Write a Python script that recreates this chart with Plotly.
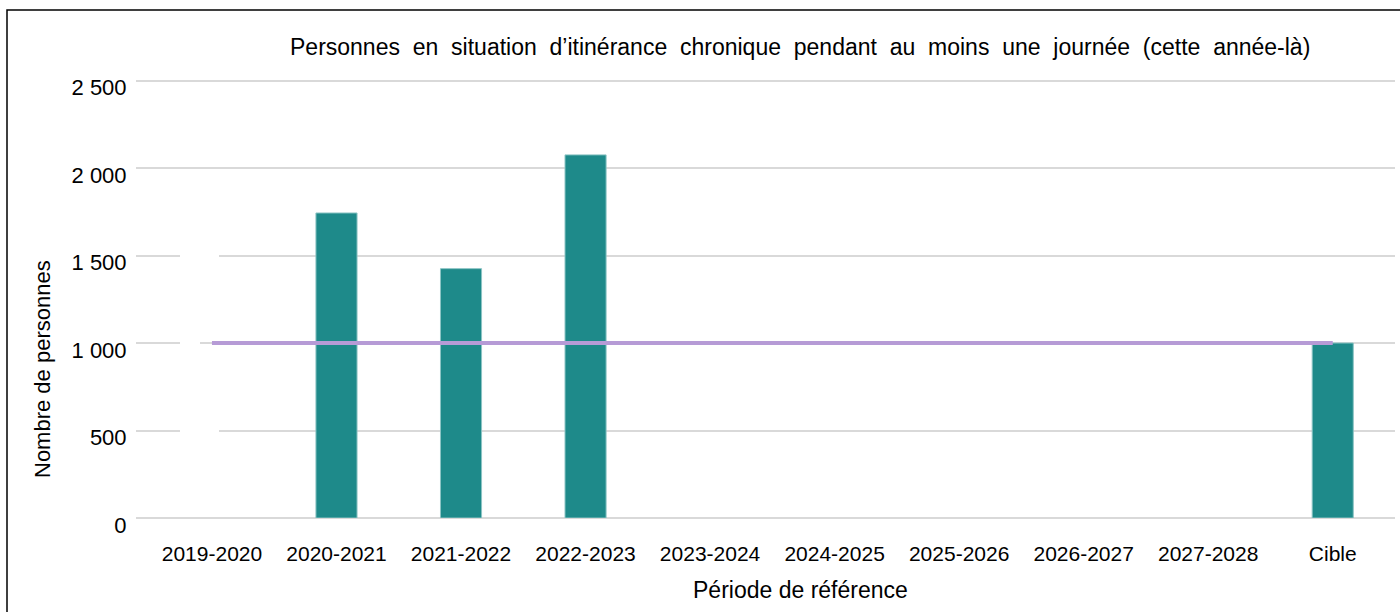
import plotly.graph_objects as go

# --------------------------------------------
# Data
# --------------------------------------------

periodes = ["2019-2020", "2020-2021", "2021-2022", "2022-2023", "2023-2024",
            "2024-2025", "2025-2026", "2026-2027", "2027-2028", "Cible"]
personnes = [None, 1743, 1425, 2075, None, None, None, None, None, 1000]
cible = [1000] * len(periodes)

y_ticks = [0, 500, 1000, 1500, 2000, 2500]
y_ticktext = ["0", "500", "1 000", "1 500", "2 000", "2 500"]

TITRE_MOTS = ["Personnes", "en", "situation", "d\u2019itinérance", "chronique",
              "pendant", "au", "moins", "une", "journée", "(cette", "année-là)"]
TITRE = "\u00a0\u00a0".join(TITRE_MOTS)

# --------------------------------------------
# Layout helpers (pixel positions from the reference)
# --------------------------------------------

W, H = 1400, 612
Y_MAX = 2520
PX_PER_UNIT = 175 / 1000
L = 136
R = W - 1395
B = H - 518
T = round(518 - Y_MAX * PX_PER_UNIT)
PW, PH = W - L - R, H - T - B


def px_x(x):
    return (x - L) / PW


def px_y(y):
    return (H - B - y) / PH


FONT = "Liberation Sans, Arial, sans-serif"

fig = go.Figure()

fig.add_trace(go.Bar(
    x=periodes,
    y=personnes,
    width=0.33,
    marker=dict(color="#1e8a8a", line=dict(color="#8cc4c4", width=1)),
    showlegend=False,
))

fig.add_trace(go.Scatter(
    x=periodes,
    y=cible,
    mode="lines",
    line=dict(color="#b69bd6", width=4),
    showlegend=False,
))

fig.update_layout(
    width=W,
    height=H,
    margin=dict(l=L, r=R, t=T, b=B),
    plot_bgcolor="white",
    paper_bgcolor="white",
    font=dict(family=FONT, color="#000000"),
)

fig.update_xaxes(
    range=[-0.61, 9.5],
    showgrid=False,
    showline=False,
    ticks="outside",
    ticklen=17,
    tickcolor="rgba(0,0,0,0)",
    tickfont=dict(size=21),
)

fig.update_yaxes(
    range=[0, Y_MAX],
    tickvals=y_ticks,
    ticktext=y_ticktext,
    showgrid=True,
    gridcolor="#d9d9d9",
    gridwidth=1.5,
    zeroline=True,
    zerolinecolor="#d9d9d9",
    zerolinewidth=1.5,
    ticks="outside",
    ticklen=4,
    tickcolor="rgba(0,0,0,0)",
    ticklabelshift=7,
    tickfont=dict(size=22),
)

# titles as annotations (positions off-centre in the reference)
fig.add_annotation(text=TITRE, xref="paper", yref="paper",
                   x=px_x(800), y=px_y(47), showarrow=False,
                   font=dict(size=23), xanchor="center", yanchor="middle")
fig.add_annotation(text="Période de référence", xref="paper", yref="paper",
                   x=px_x(800), y=px_y(590), showarrow=False,
                   font=dict(size=23), xanchor="center", yanchor="middle")
fig.add_annotation(text="Nombre de personnes", xref="paper", yref="paper",
                   x=px_x(42), y=px_y(369), showarrow=False, textangle=-90,
                   font=dict(size=22), xanchor="center", yanchor="middle")

# small gaps in the 1500 / 1000 / 500 gridlines seen in the reference
for y_c, x_end in [(256, 219), (344, 200), (431, 219)]:
    fig.add_shape(type="rect", xref="paper", yref="paper",
                  x0=px_x(180), x1=px_x(x_end), y0=px_y(y_c + 3), y1=px_y(y_c - 3),
                  fillcolor="white", line_width=0, layer="above")

# outer border
fig.add_shape(type="rect", xref="paper", yref="paper",
              x0=px_x(7), x1=px_x(1420), y0=px_y(640), y1=px_y(10),
              line=dict(color="#000000", width=1.5), fillcolor="rgba(0,0,0,0)")

fig.write_html("out.html", config={"displayModeBar": False},
               post_script="document.body.style.margin='0';")
